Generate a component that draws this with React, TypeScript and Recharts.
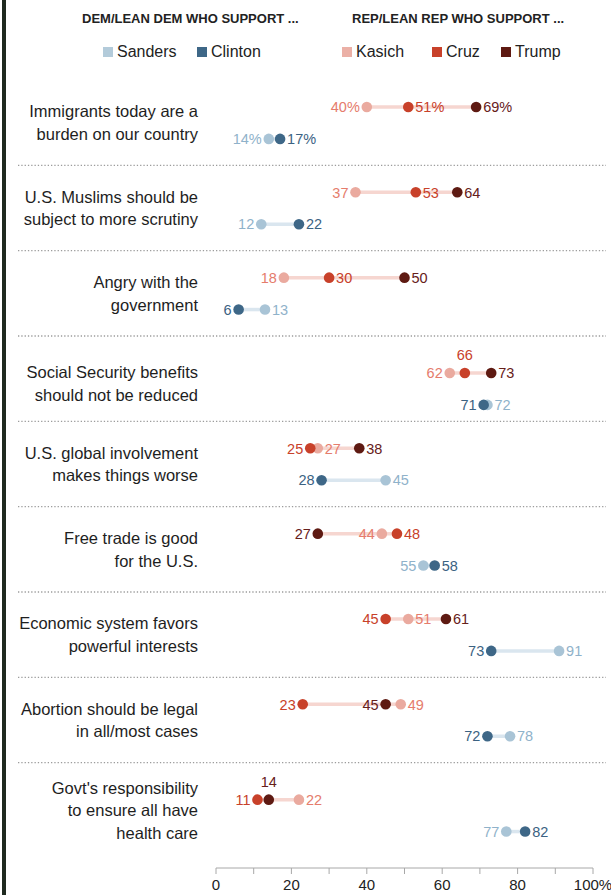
import React from 'react'
import { ScatterChart, Scatter, XAxis, YAxis, ReferenceLine } from 'recharts'

const statements = [
  'Immigrants today are a\nburden on our country',
  'U.S. Muslims should be\nsubject to more scrutiny',
  'Angry with the\ngovernment',
  'Social Security benefits\nshould not be reduced',
  'U.S. global involvement\nmakes things worse',
  'Free trade is good\nfor the U.S.',
  'Economic system favors\npowerful interests',
  'Abortion should be legal\nin all/most cases',
  "Govt's responsibility\nto ensure all have\nhealth care",
]

// Dem/lean Dem
const sanders = [14, 12, 13, 72, 45, 55, 91, 78, 77]
const clinton = [17, 22, 6, 71, 28, 58, 73, 72, 82]
// Rep/lean Rep
const kasich = [40, 37, 18, 62, 27, 44, 51, 49, 22]
const cruz = [51, 53, 30, 66, 25, 48, 45, 23, 11]
const trump = [69, 64, 50, 73, 38, 27, 61, 45, 14]

const xTicks = [0, 10, 20, 30, 40, 50, 60, 70, 80, 90, 100]

const FONT = '"Liberation Sans", Arial, sans-serif'

type Side = 'left' | 'right' | 'top'

// leftmost label goes left, rightmost right; a middle one goes where there is room
function labelSides(vals: number[]): Side[] {
  const order = vals.map((_, i) => i).sort((a, b) => vals[a] - vals[b])
  const out: Side[] = []
  order.forEach((idx, k) => {
    if (k === 0) out[idx] = 'left'
    else if (k === order.length - 1) out[idx] = 'right'
    else {
      const right = vals[order[k + 1]] - vals[idx]
      const left = vals[idx] - vals[order[k - 1]]
      out[idx] = right >= 10 ? 'right' : left >= 10 ? 'left' : 'top'
    }
  })
  return out
}

const rows = statements.map((_, i) => {
  const rep = labelSides([kasich[i], cruz[i], trump[i]])
  const dem = labelSides([sanders[i], clinton[i]])
  const shift = rep.includes('top') ? 0.117 : 0
  return { rep, dem, repY: i + 0.316 + shift, demY: i + 0.69 + shift, mid: i + 0.5 + shift / 2 }
})

const fmt = (v: number, i: number) => (i === 0 ? `${v}%` : `${v}`)

const repSeries = [kasich, cruz, trump].map((vals, s) =>
  vals.map((v, i) => ({ x: v, y: rows[i].repY, label: fmt(v, i), side: rows[i].rep[s] }))
)
const demSeries = [sanders, clinton].map((vals, s) =>
  vals.map((v, i) => ({ x: v, y: rows[i].demY, label: fmt(v, i), side: rows[i].dem[s] }))
)

const colors = {
  sanders: { dot: '#a9c4d6', text: '#8fb2ca', key: '#b3cbda' },
  clinton: { dot: '#3e6787', text: '#3b6282', key: '#3e6787' },
  kasich: { dot: '#eaaa9f', text: '#e57c6c', key: '#ebb0a6' },
  cruz: { dot: '#c8412a', text: '#c8412a', key: '#c8412a' },
  trump: { dot: '#5e1a12', text: '#66201a', key: '#5e1a12' },
}

const dotShape = (c: { dot: string; text: string }) => (p: any) => {
  const { cx, cy, payload } = p
  const side: Side = payload.side
  const tx = side === 'left' ? cx - 7 : side === 'right' ? cx + 7 : cx
  const ty = side === 'top' ? cy - 18 : cy
  const anchor = side === 'left' ? 'end' : side === 'right' ? 'start' : 'middle'
  return (
    <g>
      <circle cx={cx} cy={cy} r={5.3} fill={c.dot} />
      <text x={tx} y={ty} dy="0.36em" textAnchor={anchor} fontSize={14.5} fill={c.text} fontFamily={FONT}>
        {payload.label}
      </text>
    </g>
  )
}

const StatementTick = (props: any) => {
  const { x, y, index } = props
  const lines = (statements[index] || '').split('\n')
  const lh = 22.5
  const y0 = y - ((lines.length - 1) * lh) / 2
  return (
    <text textAnchor="end" fontSize={16.5} fill="#1e1e1e" fontFamily={FONT}>
      {lines.map((l, k) => (
        <tspan key={k} x={x} y={y0 + k * lh} dy="0.36em">
          {l}
        </tspan>
      ))}
    </text>
  )
}

const Separator = (p: any) => (
  <line x1={18} x2={606} y1={p.y1} y2={p.y1} stroke="#9c9c9c" strokeWidth={1.3} strokeDasharray="1.3 2" />
)

const LegendKey = ({ left, color, name }: { left: number; color: string; name: string }) => (
  <div style={{ position: 'absolute', left, top: 43, display: 'flex', alignItems: 'center', fontSize: 16, color: '#222' }}>
    <span style={{ width: 10, height: 10, background: color, marginRight: 4, display: 'inline-block' }} />
    {name}
  </div>
)

export default function App() {
  return (
    <div style={{ position: 'absolute', left: 0, top: 0, width: 611, height: 895, background: '#fff', fontFamily: FONT, overflow: 'hidden' }}>
      <div style={{ position: 'absolute', left: 2, top: 0, width: 4, height: 895, background: '#1f2a20' }} />
      <div style={{ position: 'absolute', left: 82, top: 11, fontSize: 13, fontWeight: 700, color: '#222' }}>
        DEM/LEAN DEM WHO SUPPORT ...
      </div>
      <div style={{ position: 'absolute', left: 352, top: 11, fontSize: 13, fontWeight: 700, color: '#222' }}>
        REP/LEAN REP WHO SUPPORT ...
      </div>
      <LegendKey left={103} color={colors.sanders.key} name="Sanders" />
      <LegendKey left={197} color={colors.clinton.key} name="Clinton" />
      <LegendKey left={342} color={colors.kasich.key} name="Kasich" />
      <LegendKey left={432} color={colors.cruz.key} name="Cruz" />
      <LegendKey left={501} color={colors.trump.key} name="Trump" />

      <div style={{ position: 'absolute', left: 0, top: 0 }}>
        <ScatterChart width={611} height={895} margin={{ top: 80, right: 18, bottom: 0, left: 0 }}>
          <XAxis
            type="number"
            dataKey="x"
            domain={[0, 100]}
            ticks={xTicks}
            interval={0}
            height={27}
            stroke="#a8a8a8"
            tickSize={6}
            tickMargin={5}
            tick={{ fill: '#222', fontSize: 15, fontFamily: FONT }}
            tickFormatter={(v: number) => (v % 20 !== 0 ? '' : v === 100 ? '100%' : `${v}`)}
          />
          <YAxis
            type="number"
            dataKey="y"
            reversed
            domain={[0, statements.length + 0.234]}
            ticks={rows.map((r) => r.mid)}
            interval={0}
            width={216}
            axisLine={false}
            tickLine={false}
            tickSize={0}
            tickMargin={18}
            tick={<StatementTick />}
          />
          {statements.slice(1).map((_, i) => (
            <ReferenceLine key={`sep${i}`} y={i + 1} shape={Separator} />
          ))}
          {rows.map((r, i) => {
            const rv = [kasich[i], cruz[i], trump[i]]
            const dv = [sanders[i], clinton[i]]
            return (
              <React.Fragment key={`seg${i}`}>
                <ReferenceLine
                  segment={[{ x: Math.min(...rv), y: r.repY }, { x: Math.max(...rv), y: r.repY }]}
                  stroke="#f6d6d0"
                  strokeWidth={3.5}
                />
                <ReferenceLine
                  segment={[{ x: Math.min(...dv), y: r.demY }, { x: Math.max(...dv), y: r.demY }]}
                  stroke="#dae6ef"
                  strokeWidth={3.5}
                />
              </React.Fragment>
            )
          })}
          <Scatter name="Kasich" data={repSeries[0]} shape={dotShape(colors.kasich)} isAnimationActive={false} />
          <Scatter name="Cruz" data={repSeries[1]} shape={dotShape(colors.cruz)} isAnimationActive={false} />
          <Scatter name="Trump" data={repSeries[2]} shape={dotShape(colors.trump)} isAnimationActive={false} />
          <Scatter name="Sanders" data={demSeries[0]} shape={dotShape(colors.sanders)} isAnimationActive={false} />
          <Scatter name="Clinton" data={demSeries[1]} shape={dotShape(colors.clinton)} isAnimationActive={false} />
        </ScatterChart>
      </div>
    </div>
  )
}
